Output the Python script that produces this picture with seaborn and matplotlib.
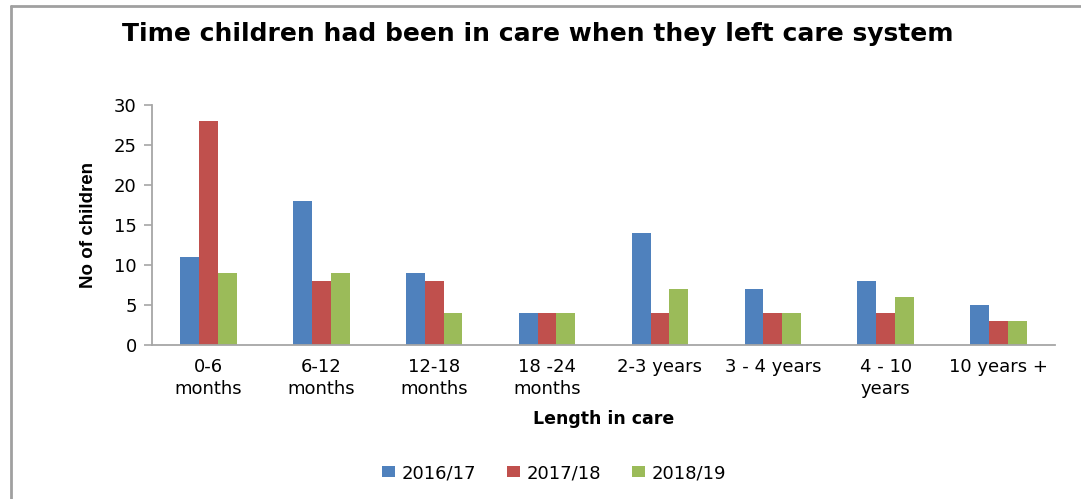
import matplotlib
matplotlib.use("Agg")
import matplotlib.pyplot as plt
from matplotlib.lines import Line2D
import seaborn as sns
import pandas as pd

# Data
categories = ["0-6\nmonths", "6-12\nmonths", "12-18\nmonths", "18 -24\nmonths",
              "2-3 years", "3 - 4 years", "4 - 10\nyears", "10 years +"]
years = ["2016/17", "2017/18", "2018/19"]
values_2016_17 = [11, 18, 9, 4, 14, 7, 8, 5]
values_2017_18 = [28, 8, 8, 4, 4, 4, 4, 3]
values_2018_19 = [9, 9, 4, 4, 7, 4, 6, 3]
colors = ["#4F81BD", "#C0504D", "#9BBB59"]

df = pd.DataFrame({
    "category": categories * 3,
    "year": [years[0]] * 8 + [years[1]] * 8 + [years[2]] * 8,
    "count": values_2016_17 + values_2017_18 + values_2018_19,
})

sns.set_theme(style="white")
plt.rcParams["font.family"] = ["DejaVu Sans"]
plt.rcParams["text.color"] = "black"
plt.rcParams["axes.labelcolor"] = "black"
plt.rcParams["xtick.color"] = "black"
plt.rcParams["ytick.color"] = "black"

W, H = 1081, 499
fig = plt.figure(figsize=(W / 100, H / 100), dpi=100)
ax = fig.add_axes([152 / W, 1 - 345 / H, (1055 - 152) / W, (345 - 105) / H])

sns.barplot(data=df, x="category", y="count", hue="year", order=categories,
            hue_order=years, palette=colors, width=0.5, gap=0,
            saturation=1, linewidth=0, ax=ax, legend=True)

ax.set_ylim(0, 30)
ax.set_yticks(range(0, 31, 5))
ax.set_xlim(-0.5, len(categories) - 0.5)
for s in ["top", "right"]:
    ax.spines[s].set_visible(False)
for s in ["left", "bottom"]:
    ax.spines[s].set_color("#A6A6A6")
    ax.spines[s].set_linewidth(1.3)
ax.tick_params(axis="y", direction="out", length=6, width=1.2, color="#A6A6A6",
               labelcolor="black", labelsize=13, pad=5, left=True)
ax.tick_params(axis="x", length=0, labelsize=13, labelcolor="black", pad=9)
for lab in ax.get_xticklabels():
    lab.set_linespacing(1.3)

ax.set_xlabel("Length in care", fontsize=12.5, fontweight="bold", labelpad=9)
ax.set_ylabel("No of children", fontsize=13.5, fontweight="bold",
              family=["Liberation Sans Narrow", "Liberation Sans"], labelpad=12)

ax.legend(loc="center", bbox_to_anchor=(0.5 + (554 - 603.5) / 903, (345 - 473) / 240),
          ncol=3, frameon=False, fontsize=13, handlelength=0.75,
          handleheight=0.6, handletextpad=0.35, columnspacing=1.7)

fig.text(538 / W, 1 - 34 / H, "Time children had been in care when they left care system",
         ha="center", va="center", fontsize=18, fontweight="bold")

# Outer chart frame (left and top edges)
fig.add_artist(Line2D([11 / W, 11 / W], [0, 1 - 6 / H], transform=fig.transFigure,
                      color="#A0A0A0", lw=2))
fig.add_artist(Line2D([11 / W, 1], [1 - 6 / H, 1 - 6 / H], transform=fig.transFigure,
                      color="#A0A0A0", lw=2))

fig.savefig("out.png", dpi=100)
